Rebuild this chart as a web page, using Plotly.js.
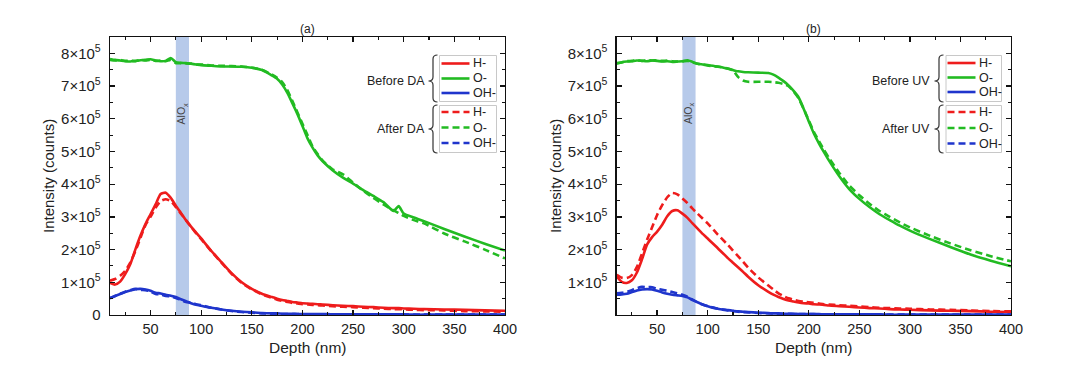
<!DOCTYPE html>
<html>
<head>
<meta charset="utf-8">
<script src="https://cdn.plot.ly/plotly-3.0.1.min.js"></script>
<style>html,body{margin:0;padding:0;background:#fff;}#chart{width:1080px;height:380px;}</style>
</head>
<body>
<div id="chart"></div>
<script>
// ---------- DATA (intensity in units of 1e5 counts) ----------
const depthA = [10,15,20,25,30,35,40,45,50,55,60,65,70,75,80,85,90,95,100,110,120,130,140,150,160,170,175,180,185,190,195,200,205,210,215,220,230,240,250,260,270,280,290,295,300,310,320,340,360,380,400];
const hBeforeDA  = [0.98,0.93,1.02,1.25,1.55,2.00,2.42,2.78,3.08,3.38,3.70,3.74,3.58,3.34,3.12,2.90,2.70,2.52,2.34,1.96,1.62,1.28,1.00,0.80,0.65,0.55,0.50,0.46,0.43,0.40,0.38,0.36,0.35,0.34,0.33,0.32,0.30,0.28,0.27,0.25,0.24,0.22,0.21,0.21,0.20,0.19,0.18,0.17,0.16,0.14,0.13];
const oBeforeDA  = [7.83,7.80,7.78,7.76,7.75,7.77,7.79,7.80,7.82,7.78,7.76,7.77,7.86,7.73,7.71,7.70,7.68,7.66,7.64,7.62,7.60,7.60,7.59,7.56,7.49,7.32,7.22,7.05,6.80,6.48,6.15,5.78,5.40,5.12,4.88,4.70,4.42,4.20,4.02,3.82,3.64,3.45,3.18,3.33,3.10,2.98,2.87,2.63,2.40,2.18,1.97];
const ohBeforeDA = [0.51,0.58,0.64,0.70,0.75,0.79,0.80,0.78,0.74,0.68,0.66,0.62,0.59,0.55,0.48,0.42,0.36,0.31,0.28,0.22,0.17,0.13,0.10,0.08,0.06,0.05,0.05,0.04,0.04,0.04,0.03,0.03,0.03,0.03,0.03,0.03,0.02,0.02,0.02,0.02,0.02,0.02,0.02,0.02,0.02,0.01,0.01,0.01,0.01,0.01,0.01];
const hAfterDA   = [1.05,1.10,1.20,1.35,1.60,1.95,2.35,2.75,3.00,3.28,3.48,3.54,3.48,3.30,3.10,2.90,2.70,2.50,2.32,1.95,1.60,1.26,0.98,0.78,0.63,0.52,0.47,0.43,0.40,0.37,0.35,0.33,0.32,0.31,0.30,0.29,0.27,0.25,0.24,0.22,0.21,0.19,0.18,0.18,0.17,0.16,0.15,0.14,0.12,0.11,0.10];
const oAfterDA   = [7.80,7.78,7.80,7.77,7.78,7.76,7.80,7.78,7.80,7.77,7.78,7.76,7.80,7.70,7.70,7.69,7.69,7.66,7.66,7.63,7.62,7.61,7.60,7.56,7.50,7.35,7.25,7.12,6.88,6.55,6.20,5.85,5.50,5.15,4.92,4.72,4.45,4.30,4.05,3.80,3.58,3.38,3.20,3.12,3.03,2.90,2.80,2.49,2.25,2.00,1.73];
const ohAfterDA  = [0.52,0.58,0.65,0.71,0.76,0.80,0.77,0.76,0.72,0.64,0.63,0.58,0.57,0.52,0.46,0.40,0.38,0.33,0.30,0.22,0.17,0.12,0.09,0.07,0.05,0.04,0.04,0.03,0.03,0.03,0.03,0.02,0.02,0.02,0.02,0.02,0.02,0.02,0.02,0.02,0.01,0.01,0.01,0.01,0.01,0.01,0.01,0.01,0.01,0.01,0.01];

const depthB = [10,15,20,25,30,35,40,45,50,55,60,65,70,75,80,85,90,95,100,110,120,125,130,135,140,150,160,165,170,175,180,185,190,195,200,205,210,215,220,230,240,250,260,270,280,290,300,320,340,360,380,400];
const hBeforeUV  = [1.18,1.01,0.98,1.06,1.30,1.70,2.15,2.38,2.55,2.76,3.02,3.18,3.20,3.10,2.97,2.80,2.64,2.48,2.34,2.04,1.74,1.60,1.46,1.32,1.17,0.91,0.71,0.62,0.55,0.49,0.44,0.41,0.38,0.36,0.35,0.33,0.32,0.31,0.29,0.27,0.25,0.23,0.21,0.20,0.18,0.17,0.16,0.14,0.13,0.12,0.10,0.09];
const oBeforeUV  = [7.69,7.73,7.75,7.76,7.78,7.77,7.76,7.78,7.77,7.75,7.76,7.74,7.75,7.76,7.79,7.74,7.68,7.66,7.64,7.60,7.53,7.49,7.45,7.43,7.42,7.41,7.40,7.35,7.26,7.15,7.02,6.85,6.65,6.30,5.92,5.55,5.25,4.98,4.72,4.25,3.85,3.55,3.30,3.08,2.90,2.73,2.58,2.32,2.08,1.85,1.66,1.49];
const ohBeforeUV = [0.62,0.63,0.65,0.70,0.75,0.78,0.79,0.78,0.74,0.69,0.65,0.62,0.60,0.58,0.54,0.46,0.39,0.32,0.27,0.19,0.15,0.13,0.11,0.10,0.09,0.07,0.06,0.05,0.05,0.04,0.04,0.04,0.03,0.03,0.03,0.03,0.03,0.02,0.02,0.02,0.02,0.02,0.02,0.02,0.01,0.01,0.01,0.01,0.01,0.01,0.01,0.01];
const hAfterUV   = [1.23,1.14,1.13,1.22,1.47,1.88,2.30,2.68,3.06,3.36,3.60,3.73,3.69,3.56,3.42,3.25,3.10,2.95,2.80,2.46,2.14,1.97,1.80,1.63,1.45,1.15,0.90,0.78,0.66,0.58,0.51,0.47,0.43,0.41,0.39,0.37,0.35,0.33,0.32,0.30,0.28,0.26,0.24,0.22,0.21,0.20,0.19,0.17,0.16,0.14,0.12,0.11];
const oAfterUV   = [7.70,7.72,7.76,7.77,7.79,7.77,7.79,7.78,7.79,7.77,7.78,7.76,7.75,7.75,7.77,7.72,7.68,7.66,7.63,7.59,7.54,7.48,7.28,7.17,7.13,7.13,7.13,7.12,7.10,7.06,7.00,6.83,6.62,6.30,5.95,5.60,5.32,5.05,4.80,4.35,3.96,3.66,3.40,3.18,3.00,2.83,2.68,2.42,2.19,1.98,1.80,1.64];
const ohAfterUV  = [0.66,0.68,0.71,0.76,0.82,0.86,0.85,0.85,0.80,0.77,0.74,0.70,0.66,0.62,0.56,0.47,0.39,0.32,0.27,0.19,0.14,0.12,0.10,0.09,0.08,0.06,0.05,0.05,0.04,0.04,0.04,0.03,0.03,0.03,0.03,0.03,0.02,0.02,0.02,0.02,0.02,0.02,0.02,0.01,0.01,0.01,0.01,0.01,0.01,0.01,0.01,0.01];

const aloxBand = [75, 88];           // AlOx layer depth range (nm)
const yTickValsA = [0,1,2,3,4,5,6,7,8];
const yTickTextA = ['0','1×10<sup>5</sup>','2×10<sup>5</sup>','3×10<sup>5</sup>','4×10<sup>5</sup>','5×10<sup>5</sup>','6×10<sup>5</sup>','7×10<sup>5</sup>','8×10<sup>5</sup>'];
const yTickValsB = [1,2,3,4,5,6,7,8];
const yTickTextB = ['1×10<sup>5</sup>','2×10<sup>5</sup>','3×10<sup>5</sup>','4×10<sup>5</sup>','5×10<sup>5</sup>','6×10<sup>5</sup>','7×10<sup>5</sup>','8×10<sup>5</sup>'];
const speciesLabels = ['H-','O-','OH-'];
const panelTitles = ['(a)','(b)'];
const groupLabelsA = ['Before DA','After DA'];
const groupLabelsB = ['Before UV','After UV'];

// ---------- STYLE ----------
const RED = '#ee1c1c', GREEN = '#22bb22', BLUE = '#1f35cc';
const COLORS = [RED, GREEN, BLUE];
const DASH = '7px,4px';
const LW = 2.6;
const FONT = 'Liberation Sans, Arial, Helvetica, sans-serif';
const TXT = '#222';
const W = 1080, H = 380, PT = 37, PB = 315;
const X = px => px / W;
const Y = py => (PB - py) / (PB - PT);

function tr(x, y, color, dashed, xa, ya) {
  return {x: x, y: y, type: 'scatter', mode: 'lines', xaxis: xa, yaxis: ya, showlegend: false,
    hoverinfo: 'skip', line: {color: color, width: LW, dash: dashed ? DASH : 'solid', shape: 'spline', smoothing: 0.6}};
}
const data = [
  tr(depthA, hBeforeDA, RED, false, 'x', 'y'),
  tr(depthA, oBeforeDA, GREEN, false, 'x', 'y'),
  tr(depthA, ohBeforeDA, BLUE, false, 'x', 'y'),
  tr(depthA, hAfterDA, RED, true, 'x', 'y'),
  tr(depthA, oAfterDA, GREEN, true, 'x', 'y'),
  tr(depthA, ohAfterDA, BLUE, true, 'x', 'y'),
  tr(depthB, hBeforeUV, RED, false, 'x2', 'y2'),
  tr(depthB, oBeforeUV, GREEN, false, 'x2', 'y2'),
  tr(depthB, ohBeforeUV, BLUE, false, 'x2', 'y2'),
  tr(depthB, hAfterUV, RED, true, 'x2', 'y2'),
  tr(depthB, oAfterUV, GREEN, true, 'x2', 'y2'),
  tr(depthB, ohAfterUV, BLUE, true, 'x2', 'y2')
];

function xAxis(domain, anchor) {
  return {domain: domain, anchor: anchor, range: [10, 400], tick0: 0, dtick: 50,
    ticks: 'inside', ticklen: 5, tickwidth: 1.3, tickcolor: '#111',
    showline: true, linecolor: '#111', linewidth: 1.3, mirror: 'ticks',
    showgrid: false, zeroline: false,
    minor: {dtick: 25, ticks: 'inside', ticklen: 3, tickwidth: 1.1, tickcolor: '#111', showgrid: false},
    tickfont: {family: FONT, size: 14.5, color: TXT}};
}
function yAxis(anchor, vals, txt) {
  return {domain: [0, 1], anchor: anchor, range: [0, 8.5], tickvals: vals, ticktext: txt,
    ticks: 'inside', ticklen: 5, tickwidth: 1.3, tickcolor: '#111', ticklabelstandoff: 5,
    showline: true, linecolor: '#111', linewidth: 1.3, mirror: 'ticks',
    showgrid: false, zeroline: false,
    minor: {tick0: 0, dtick: 0.5, ticks: 'inside', ticklen: 3, tickwidth: 1.1, tickcolor: '#111', showgrid: false},
    tickfont: {family: FONT, size: 15, color: TXT}};
}

const shapes = [];
const annotations = [];

// AlOx bands
[['x','y'],['x2','y2']].forEach(function(ax){
  shapes.push({type: 'rect', xref: ax[0], yref: ax[1] + ' domain', x0: aloxBand[0], x1: aloxBand[1], y0: 0, y1: 1,
    fillcolor: '#b7caea', line: {width: 0}, layer: 'below'});
  annotations.push({xref: ax[0], yref: 'paper', x: (aloxBand[0] + aloxBand[1]) / 2, y: Y(100),
    text: 'AlO<sub>x</sub>', textangle: -90, showarrow: false, font: {family: FONT, size: 10.5, color: '#444'}});
});

function brace(xr, xs, xt, yt, yb, ym) {
  const r = 4;
  const p = (a, b) => X(a) + ',' + Y(b);
  return 'M' + p(xr, yt) + ' Q' + p(xs, yt) + ' ' + p(xs, yt + r) + ' L' + p(xs, ym - r) +
    ' Q' + p(xs, ym) + ' ' + p(xt, ym) + ' Q' + p(xs, ym) + ' ' + p(xs, ym + r) +
    ' L' + p(xs, yb - r) + ' Q' + p(xs, yb) + ' ' + p(xr, yb);
}

function legend(groups, bx0, bx1, boxes, lineX0, lineX1, textX, braceX, labelX) {
  boxes.forEach(function(b, gi){
    shapes.push({type: 'rect', xref: 'paper', yref: 'paper', x0: X(bx0), x1: X(bx1), y0: Y(b.y0), y1: Y(b.y1),
      fillcolor: '#ffffff', line: {color: '#c8c8c8', width: 1}});
    b.ys.forEach(function(ly, i){
      shapes.push({type: 'line', xref: 'paper', yref: 'paper', x0: X(lineX0), x1: X(lineX1), y0: Y(ly), y1: Y(ly),
        line: {color: COLORS[i], width: LW, dash: gi === 0 ? 'solid' : DASH}});
      annotations.push({xref: 'paper', yref: 'paper', x: X(textX), y: Y(ly), xanchor: 'left', yanchor: 'middle',
        text: speciesLabels[i], showarrow: false, font: {family: FONT, size: 12.5, color: TXT}});
    });
    shapes.push({type: 'path', xref: 'paper', yref: 'paper',
      path: brace(braceX[0], braceX[1], braceX[2], b.y0 - 0.5, b.y1 + 0.5, b.ym),
      line: {color: '#333', width: 1.2}});
    annotations.push({xref: 'paper', yref: 'paper', x: X(labelX), y: Y(b.ym), xanchor: 'right', yanchor: 'middle',
      text: groups[gi], showarrow: false, font: {family: FONT, size: 12.5, color: TXT}});
  });
}
legend(groupLabelsA, 439.5, 496.5,
  [{y0: 55.5, y1: 101.5, ym: 81, ys: [63.5, 78.5, 93]}, {y0: 105.5, y1: 152.5, ym: 129, ys: [112, 127.5, 143]}],
  441.5, 469.5, 470.5, [437.5, 433, 428.5], 426.5);
legend(groupLabelsB, 946, 1001.5,
  [{y0: 55.5, y1: 101.5, ym: 81, ys: [63, 77.5, 92]}, {y0: 105.5, y1: 152.5, ym: 129, ys: [112, 128, 143.5]}],
  947.5, 975.5, 976.5, [943.5, 939, 934.5], 932);

// Titles and axis titles
const panels = [{l: 110, r: 505, yt: 48}, {l: 616.7, r: 1011, yt: 555}];
panels.forEach(function(p, i){
  const cx = (p.l + p.r) / 2;
  annotations.push({xref: 'paper', yref: 'paper', x: X(cx), y: Y(29), text: panelTitles[i], showarrow: false,
    xanchor: 'center', yanchor: 'middle', font: {family: FONT, size: 12, color: TXT}});
  annotations.push({xref: 'paper', yref: 'paper', x: X(cx), y: Y(347), text: 'Depth (nm)', showarrow: false,
    xanchor: 'center', yanchor: 'middle', font: {family: FONT, size: 15.5, color: TXT}});
  annotations.push({xref: 'paper', yref: 'paper', x: X(p.yt), y: 0.5, text: 'Intensity (counts)', showarrow: false,
    textangle: -90, xanchor: 'center', yanchor: 'middle', font: {family: FONT, size: 15, color: TXT}});
});

const layout = {
  width: W, height: H,
  margin: {l: 0, r: 0, t: PT, b: H - PB, pad: 0},
  paper_bgcolor: '#ffffff', plot_bgcolor: '#ffffff',
  showlegend: false,
  font: {family: FONT, color: TXT},
  xaxis: xAxis([110 / W, 505 / W], 'y'),
  yaxis: yAxis('x', yTickValsA, yTickTextA),
  xaxis2: xAxis([616.7 / W, 1011 / W], 'y2'),
  yaxis2: yAxis('x2', yTickValsB, yTickTextB),
  shapes: shapes,
  annotations: annotations
};

Plotly.newPlot('chart', data, layout, {staticPlot: true, displayModeBar: false});
</script>
</body>
</html>
